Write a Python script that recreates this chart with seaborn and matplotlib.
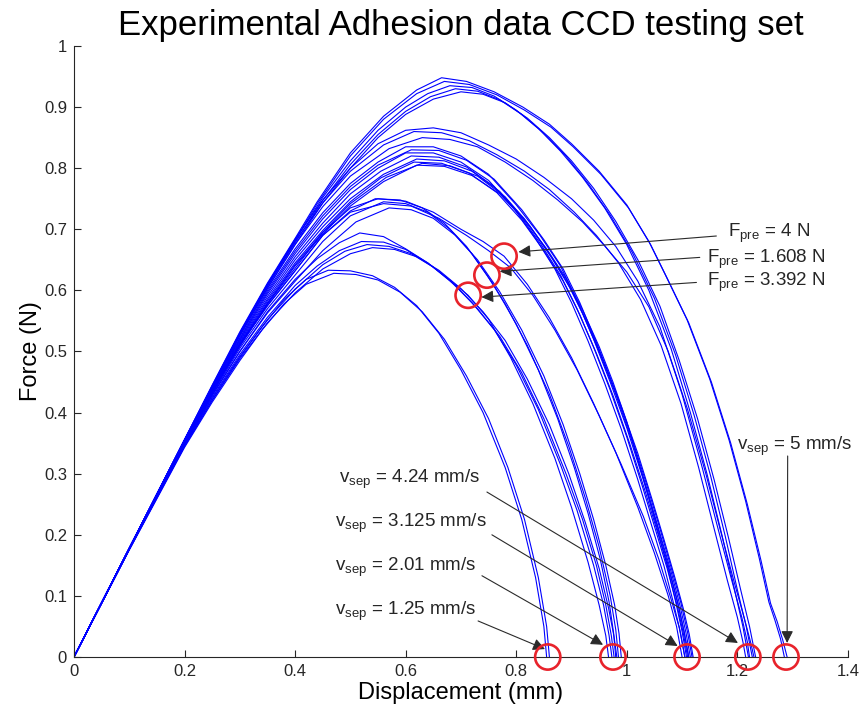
import numpy as np
import pandas as pd
import matplotlib
matplotlib.use("Agg")
import matplotlib.pyplot as plt
import seaborn as sns

# force-displacement curves, grouped by separation point
disp_A = [
    [0, 0.1, 0.2, 0.25, 0.3, 0.34, 0.38, 0.42, 0.46, 0.50, 0.54, 0.58, 0.62, 0.66, 0.70, 0.74, 0.78, 0.81, 0.835, 0.85, 0.855],
    [0, 0.1, 0.2, 0.25, 0.3, 0.34, 0.38, 0.42, 0.47, 0.51, 0.55, 0.59, 0.63, 0.67, 0.71, 0.75, 0.785, 0.815, 0.84, 0.855, 0.86],
]
force_A = [
    [0, 0.176, 0.345, 0.42, 0.49, 0.54, 0.585, 0.618, 0.633, 0.632, 0.624, 0.605, 0.575, 0.53, 0.47, 0.40, 0.31, 0.225, 0.13, 0.05, 0],
    [0, 0.175, 0.343, 0.417, 0.485, 0.535, 0.578, 0.61, 0.628, 0.626, 0.617, 0.597, 0.565, 0.52, 0.46, 0.39, 0.31, 0.225, 0.13, 0.05, 0],
]

disp_B = [
    [0, 0.1, 0.2, 0.25, 0.3, 0.35, 0.40, 0.44, 0.48, 0.517, 0.56, 0.60, 0.64, 0.68, 0.713, 0.75, 0.79, 0.83, 0.87, 0.90, 0.93, 0.95, 0.962, 0.967],
    [0, 0.1, 0.2, 0.25, 0.3, 0.35, 0.40, 0.44, 0.48, 0.52, 0.56, 0.60, 0.64, 0.68, 0.72, 0.76, 0.80, 0.84, 0.88, 0.91, 0.94, 0.958, 0.968, 0.973],
    [0, 0.1, 0.2, 0.25, 0.3, 0.35, 0.40, 0.45, 0.49, 0.53, 0.57, 0.61, 0.65, 0.69, 0.73, 0.77, 0.81, 0.85, 0.89, 0.92, 0.945, 0.962, 0.972, 0.977],
    [0, 0.1, 0.2, 0.25, 0.3, 0.35, 0.40, 0.45, 0.50, 0.54, 0.58, 0.62, 0.66, 0.70, 0.74, 0.78, 0.82, 0.86, 0.895, 0.925, 0.95, 0.967, 0.977, 0.982],
    [0, 0.1, 0.2, 0.25, 0.3, 0.35, 0.40, 0.45, 0.50, 0.545, 0.59, 0.63, 0.67, 0.71, 0.747, 0.78, 0.82, 0.86, 0.895, 0.925, 0.95, 0.97, 0.98, 0.985],
    [0, 0.1, 0.2, 0.25, 0.3, 0.35, 0.40, 0.45, 0.50, 0.56, 0.60, 0.64, 0.68, 0.72, 0.76, 0.80, 0.84, 0.875, 0.905, 0.93, 0.952, 0.968, 0.976, 0.98],
    [0, 0.1, 0.2, 0.25, 0.3, 0.35, 0.40, 0.45, 0.51, 0.57, 0.61, 0.65, 0.69, 0.73, 0.77, 0.81, 0.85, 0.885, 0.915, 0.94, 0.962, 0.978, 0.986, 0.99],
]
force_B = [
    [0, 0.177, 0.35, 0.428, 0.50, 0.565, 0.618, 0.652, 0.678, 0.694, 0.688, 0.668, 0.645, 0.617, 0.592, 0.553, 0.49, 0.415, 0.325, 0.245, 0.155, 0.085, 0.035, 0],
    [0, 0.176, 0.348, 0.425, 0.495, 0.556, 0.608, 0.64, 0.665, 0.68, 0.679, 0.667, 0.645, 0.616, 0.58, 0.536, 0.478, 0.405, 0.315, 0.24, 0.15, 0.085, 0.035, 0],
    [0, 0.176, 0.347, 0.423, 0.492, 0.552, 0.602, 0.642, 0.664, 0.675, 0.672, 0.66, 0.638, 0.608, 0.57, 0.525, 0.465, 0.39, 0.30, 0.225, 0.15, 0.085, 0.035, 0],
    [0, 0.176, 0.345, 0.42, 0.488, 0.547, 0.596, 0.635, 0.66, 0.67, 0.667, 0.655, 0.633, 0.603, 0.565, 0.518, 0.455, 0.38, 0.30, 0.22, 0.145, 0.08, 0.033, 0],
    [0, 0.177, 0.352, 0.432, 0.51, 0.575, 0.632, 0.69, 0.73, 0.75, 0.748, 0.735, 0.71, 0.672, 0.625, 0.578, 0.51, 0.43, 0.345, 0.26, 0.18, 0.10, 0.045, 0],
    [0, 0.177, 0.35, 0.43, 0.505, 0.57, 0.625, 0.68, 0.722, 0.745, 0.742, 0.728, 0.70, 0.66, 0.608, 0.545, 0.47, 0.39, 0.31, 0.235, 0.16, 0.09, 0.04, 0],
    [0, 0.176, 0.348, 0.428, 0.50, 0.563, 0.615, 0.665, 0.712, 0.735, 0.732, 0.718, 0.69, 0.65, 0.598, 0.535, 0.46, 0.38, 0.30, 0.225, 0.15, 0.085, 0.038, 0],
]

disp_C = [
    [0, 0.1, 0.2, 0.25, 0.3, 0.35, 0.40, 0.45, 0.50, 0.55, 0.60, 0.65, 0.70, 0.74, 0.778, 0.82, 0.86, 0.90, 0.94, 0.98, 1.02, 1.05, 1.075, 1.09, 1.10],
    [0, 0.1, 0.2, 0.25, 0.3, 0.35, 0.40, 0.45, 0.50, 0.56, 0.61, 0.66, 0.71, 0.75, 0.79, 0.83, 0.87, 0.91, 0.95, 0.99, 1.03, 1.058, 1.08, 1.095, 1.105],
    [0, 0.1, 0.2, 0.25, 0.3, 0.35, 0.40, 0.45, 0.50, 0.55, 0.60, 0.65, 0.70, 0.75, 0.80, 0.843, 0.88, 0.91, 0.94, 0.97, 1.00, 1.03, 1.055, 1.075, 1.092, 1.104, 1.112],
    [0, 0.1, 0.2, 0.25, 0.3, 0.35, 0.40, 0.45, 0.50, 0.55, 0.61, 0.66, 0.71, 0.76, 0.81, 0.85, 0.885, 0.915, 0.945, 0.975, 1.005, 1.035, 1.06, 1.08, 1.098, 1.11, 1.118],
    [0, 0.1, 0.2, 0.25, 0.3, 0.35, 0.40, 0.45, 0.50, 0.55, 0.60, 0.65, 0.70, 0.75, 0.795, 0.835, 0.87, 0.90, 0.93, 0.96, 0.99, 1.02, 1.045, 1.067, 1.084, 1.097, 1.105],
    [0, 0.1, 0.2, 0.25, 0.3, 0.35, 0.40, 0.45, 0.50, 0.555, 0.61, 0.66, 0.71, 0.76, 0.805, 0.845, 0.88, 0.91, 0.94, 0.97, 1.00, 1.028, 1.052, 1.073, 1.09, 1.102, 1.11],
    [0, 0.1, 0.2, 0.25, 0.3, 0.35, 0.40, 0.45, 0.50, 0.56, 0.62, 0.67, 0.72, 0.77, 0.815, 0.855, 0.89, 0.92, 0.95, 0.98, 1.01, 1.037, 1.06, 1.08, 1.096, 1.107, 1.115],
    [0, 0.1, 0.2, 0.25, 0.3, 0.35, 0.40, 0.45, 0.50, 0.555, 0.615, 0.665, 0.715, 0.765, 0.81, 0.85, 0.885, 0.915, 0.945, 0.975, 1.005, 1.033, 1.057, 1.077, 1.093, 1.104, 1.112],
    [0, 0.1, 0.2, 0.25, 0.3, 0.35, 0.40, 0.45, 0.50, 0.565, 0.63, 0.68, 0.73, 0.78, 0.825, 0.865, 0.90, 0.93, 0.96, 0.99, 1.02, 1.046, 1.068, 1.087, 1.102, 1.113, 1.12],
    [0, 0.1, 0.2, 0.25, 0.3, 0.35, 0.40, 0.45, 0.50, 0.56, 0.62, 0.67, 0.72, 0.77, 0.815, 0.855, 0.89, 0.92, 0.95, 0.975, 1.00, 1.028, 1.052, 1.072, 1.088, 1.10, 1.108],
]
force_C = [
    [0, 0.178, 0.353, 0.435, 0.512, 0.578, 0.636, 0.695, 0.735, 0.75, 0.746, 0.728, 0.70, 0.68, 0.656, 0.61, 0.555, 0.49, 0.415, 0.335, 0.245, 0.17, 0.10, 0.05, 0],
    [0, 0.177, 0.352, 0.433, 0.51, 0.575, 0.632, 0.69, 0.728, 0.742, 0.738, 0.718, 0.69, 0.665, 0.637, 0.592, 0.535, 0.47, 0.395, 0.315, 0.23, 0.16, 0.095, 0.048, 0],
    [0, 0.178, 0.355, 0.44, 0.522, 0.60, 0.668, 0.727, 0.775, 0.81, 0.835, 0.835, 0.82, 0.79, 0.74, 0.69, 0.64, 0.584, 0.52, 0.45, 0.375, 0.29, 0.215, 0.15, 0.09, 0.04, 0],
    [0, 0.178, 0.355, 0.44, 0.52, 0.597, 0.664, 0.722, 0.77, 0.805, 0.83, 0.829, 0.813, 0.782, 0.732, 0.683, 0.635, 0.58, 0.515, 0.445, 0.37, 0.285, 0.21, 0.147, 0.088, 0.04, 0],
    [0, 0.178, 0.354, 0.438, 0.518, 0.594, 0.66, 0.717, 0.765, 0.80, 0.825, 0.825, 0.81, 0.78, 0.735, 0.685, 0.635, 0.58, 0.517, 0.448, 0.373, 0.29, 0.215, 0.15, 0.09, 0.04, 0],
    [0, 0.178, 0.354, 0.437, 0.516, 0.59, 0.655, 0.71, 0.758, 0.795, 0.82, 0.818, 0.802, 0.77, 0.725, 0.675, 0.625, 0.57, 0.507, 0.437, 0.36, 0.28, 0.208, 0.145, 0.088, 0.04, 0],
    [0, 0.177, 0.353, 0.436, 0.514, 0.586, 0.65, 0.704, 0.75, 0.79, 0.815, 0.812, 0.795, 0.762, 0.717, 0.667, 0.617, 0.562, 0.50, 0.43, 0.352, 0.273, 0.202, 0.14, 0.085, 0.04, 0],
    [0, 0.177, 0.352, 0.435, 0.512, 0.583, 0.645, 0.698, 0.745, 0.784, 0.81, 0.808, 0.792, 0.76, 0.715, 0.665, 0.615, 0.56, 0.497, 0.428, 0.35, 0.272, 0.20, 0.14, 0.085, 0.04, 0],
    [0, 0.177, 0.352, 0.434, 0.51, 0.58, 0.642, 0.695, 0.742, 0.785, 0.808, 0.804, 0.787, 0.753, 0.705, 0.652, 0.60, 0.545, 0.48, 0.41, 0.333, 0.257, 0.19, 0.13, 0.08, 0.037, 0],
    [0, 0.177, 0.351, 0.433, 0.508, 0.578, 0.64, 0.692, 0.738, 0.778, 0.805, 0.803, 0.788, 0.758, 0.715, 0.668, 0.62, 0.568, 0.508, 0.45, 0.385, 0.298, 0.22, 0.153, 0.092, 0.042, 0],
]

disp_D = [
    [0, 0.1, 0.2, 0.25, 0.3, 0.35, 0.40, 0.45, 0.50, 0.55, 0.60, 0.65, 0.70, 0.75, 0.80, 0.85, 0.90, 0.94, 0.98, 1.02, 1.06, 1.10, 1.135, 1.165, 1.19, 1.208, 1.218, 1.222],
    [0, 0.1, 0.2, 0.25, 0.3, 0.35, 0.40, 0.45, 0.50, 0.56, 0.615, 0.665, 0.715, 0.765, 0.815, 0.86, 0.905, 0.945, 0.985, 1.025, 1.062, 1.098, 1.13, 1.158, 1.182, 1.20, 1.21, 1.215],
    [0, 0.1, 0.2, 0.25, 0.3, 0.35, 0.40, 0.45, 0.50, 0.57, 0.63, 0.68, 0.73, 0.78, 0.83, 0.875, 0.92, 0.96, 1.00, 1.04, 1.075, 1.11, 1.143, 1.17, 1.195, 1.213, 1.224, 1.23],
    [0, 0.1, 0.2, 0.25, 0.3, 0.35, 0.40, 0.45, 0.50, 0.55, 0.60, 0.64, 0.68, 0.72, 0.76, 0.80, 0.84, 0.88, 0.92, 0.96, 1.00, 1.04, 1.08, 1.115, 1.145, 1.172, 1.195, 1.21, 1.22],
    [0, 0.1, 0.2, 0.25, 0.3, 0.35, 0.40, 0.45, 0.50, 0.55, 0.60, 0.645, 0.69, 0.73, 0.77, 0.81, 0.85, 0.89, 0.93, 0.97, 1.01, 1.05, 1.088, 1.122, 1.152, 1.178, 1.20, 1.216, 1.227],
    [0, 0.1, 0.2, 0.25, 0.3, 0.35, 0.40, 0.45, 0.50, 0.55, 0.60, 0.65, 0.70, 0.74, 0.78, 0.82, 0.86, 0.90, 0.94, 0.98, 1.02, 1.06, 1.095, 1.128, 1.158, 1.184, 1.206, 1.222, 1.233],
]
force_D = [
    [0, 0.178, 0.355, 0.442, 0.53, 0.61, 0.684, 0.748, 0.80, 0.84, 0.862, 0.866, 0.858, 0.838, 0.815, 0.785, 0.75, 0.715, 0.672, 0.615, 0.54, 0.43, 0.315, 0.21, 0.125, 0.065, 0.025, 0],
    [0, 0.178, 0.355, 0.441, 0.528, 0.607, 0.68, 0.743, 0.795, 0.838, 0.86, 0.858, 0.845, 0.822, 0.795, 0.765, 0.728, 0.69, 0.645, 0.585, 0.51, 0.415, 0.31, 0.21, 0.125, 0.065, 0.025, 0],
    [0, 0.177, 0.353, 0.44, 0.525, 0.603, 0.675, 0.737, 0.787, 0.832, 0.85, 0.847, 0.835, 0.81, 0.78, 0.748, 0.712, 0.673, 0.63, 0.573, 0.50, 0.405, 0.30, 0.205, 0.12, 0.062, 0.024, 0],
    [0, 0.178, 0.355, 0.443, 0.53, 0.61, 0.682, 0.752, 0.812, 0.862, 0.90, 0.922, 0.935, 0.932, 0.918, 0.895, 0.865, 0.828, 0.785, 0.735, 0.675, 0.60, 0.505, 0.40, 0.30, 0.20, 0.11, 0.05, 0],
    [0, 0.178, 0.355, 0.442, 0.528, 0.607, 0.678, 0.747, 0.806, 0.855, 0.893, 0.917, 0.93, 0.926, 0.912, 0.888, 0.857, 0.82, 0.775, 0.723, 0.662, 0.587, 0.495, 0.395, 0.295, 0.198, 0.11, 0.05, 0],
    [0, 0.178, 0.354, 0.441, 0.526, 0.604, 0.675, 0.743, 0.80, 0.85, 0.888, 0.913, 0.925, 0.921, 0.907, 0.882, 0.85, 0.812, 0.767, 0.713, 0.65, 0.574, 0.485, 0.39, 0.29, 0.195, 0.11, 0.05, 0],
]

disp_E = [
    [0, 0.1, 0.2, 0.25, 0.3, 0.35, 0.40, 0.44, 0.50, 0.56, 0.62, 0.665, 0.71, 0.76, 0.812, 0.86, 0.90, 0.95, 1.00, 1.04, 1.07, 1.109, 1.15, 1.185, 1.215, 1.24, 1.257, 1.268, 1.278, 1.285],
    [0, 0.1, 0.2, 0.25, 0.3, 0.35, 0.40, 0.44, 0.50, 0.56, 0.62, 0.67, 0.715, 0.765, 0.815, 0.863, 0.903, 0.953, 1.003, 1.043, 1.073, 1.112, 1.153, 1.188, 1.218, 1.243, 1.26, 1.272, 1.282, 1.29],
]
force_E = [
    [0, 0.178, 0.356, 0.445, 0.532, 0.612, 0.685, 0.745, 0.825, 0.885, 0.928, 0.948, 0.942, 0.925, 0.90, 0.872, 0.84, 0.795, 0.74, 0.68, 0.625, 0.552, 0.455, 0.355, 0.255, 0.16, 0.09, 0.06, 0.03, 0],
    [0, 0.178, 0.356, 0.444, 0.53, 0.61, 0.682, 0.742, 0.82, 0.88, 0.922, 0.942, 0.937, 0.92, 0.895, 0.867, 0.835, 0.79, 0.735, 0.675, 0.62, 0.547, 0.45, 0.35, 0.25, 0.157, 0.088, 0.058, 0.028, 0],
]

# highlighted points
fpre_disp = [0.778, 0.747, 0.713]
fpre_force = [0.656, 0.625, 0.592]
sep_disp = [0.857, 0.975, 1.109, 1.219, 1.288]
sep_force = [0, 0, 0, 0, 0]

fpre_labels = [r"F$_{\rm pre}$ = 4 N", r"F$_{\rm pre}$ = 1.608 N", r"F$_{\rm pre}$ = 3.392 N"]
vsep_labels = [r"v$_{\rm sep}$ = 1.25 mm/s", r"v$_{\rm sep}$ = 2.01 mm/s", r"v$_{\rm sep}$ = 3.125 mm/s",
               r"v$_{\rm sep}$ = 4.24 mm/s", r"v$_{\rm sep}$ = 5 mm/s"]

# long-form table for seaborn
rows = []
cid = 0
for dd, ff in [(disp_A, force_A), (disp_B, force_B), (disp_C, force_C), (disp_D, force_D), (disp_E, force_E)]:
    for d, f in zip(dd, ff):
        for x, y in zip(d, f):
            rows.append((cid, x, y))
        cid += 1
df = pd.DataFrame(rows, columns=["curve", "disp", "force"])

sns.set_style("ticks")
plt.rcParams["font.family"] = ["Liberation Sans", "DejaVu Sans"]
plt.rcParams["mathtext.fontset"] = "custom"
plt.rcParams["mathtext.rm"] = "Liberation Sans"
plt.rcParams["mathtext.it"] = "Liberation Sans:italic"

fig = plt.figure(figsize=(8.64, 7.15), dpi=100)
ax = fig.add_axes([0.0856, 0.0811, 0.8958, 0.8546])

sns.lineplot(data=df, x="disp", y="force", units="curve", estimator=None, sort=False,
             color="#0000ff", linewidth=0.8, legend=False, ax=ax)

red = "#e8232b"
ax.scatter(fpre_disp, fpre_force, s=330, facecolors="none", edgecolors=red, linewidths=1.9, zorder=5)
ax.scatter(sep_disp, sep_force, s=330, facecolors="none", edgecolors=red, linewidths=1.9, zorder=5, clip_on=False)

txt = "#262626"
arrow = dict(arrowstyle="-|>", color="#2a2a2a", lw=0.8, mutation_scale=18, shrinkA=0, shrinkB=0)

# text position, arrow start, arrow tip
fpre_text_xy = [(1.183, 0.693), (1.145, 0.650), (1.145, 0.613)]
fpre_start = [(1.162, 0.689), (1.132, 0.654), (1.126, 0.613)]
fpre_tip = [(0.804, 0.663), (0.770, 0.631), (0.737, 0.589)]
for lab, t, s0, s1 in zip(fpre_labels, fpre_text_xy, fpre_start, fpre_tip):
    ax.text(t[0], t[1], lab, fontsize=13.5, color=txt, ha="left", va="center")
    ax.annotate("", xy=s1, xytext=s0, arrowprops=arrow)

vsep_text_xy = [(0.472, 0.074), (0.472, 0.147), (0.472, 0.219), (0.479, 0.290), (1.199, 0.344)]
vsep_start = [(0.731, 0.059), (0.738, 0.133), (0.756, 0.200), (0.747, 0.270), (1.291, 0.329)]
vsep_tip = [(0.852, 0.013), (0.957, 0.020), (1.092, 0.018), (1.201, 0.023), (1.290, 0.023)]
for lab, t, s0, s1 in zip(vsep_labels, vsep_text_xy, vsep_start, vsep_tip):
    ax.text(t[0], t[1], lab, fontsize=13.5, color=txt, ha="left", va="center")
    ax.annotate("", xy=s1, xytext=s0, arrowprops=arrow)

ax.set_xlim(0, 1.4)
ax.set_ylim(0, 1)
ax.set_xticks(np.arange(0, 1.41, 0.2))
ax.set_xticklabels(["0", "0.2", "0.4", "0.6", "0.8", "1", "1.2", "1.4"])
ax.set_yticks(np.arange(0, 1.01, 0.1))
ax.set_yticklabels(["0", "0.1", "0.2", "0.3", "0.4", "0.5", "0.6", "0.7", "0.8", "0.9", "1"])
ax.tick_params(direction="in", length=5, width=0.8, colors="#262626", labelsize=12, pad=5)
for side in ["left", "bottom"]:
    ax.spines[side].set_color("#262626")
    ax.spines[side].set_linewidth(0.8)
sns.despine(ax=ax)

ax.set_xlabel("Displacement (mm)", fontsize=17, color="#000000", labelpad=2)
ax.set_ylabel("Force (N)", fontsize=17, color="#000000", labelpad=1.5)
ax.set_title("Experimental Adhesion data CCD testing set", fontsize=25, color="#000000", pad=8)

fig.savefig("out.png", dpi=100)
